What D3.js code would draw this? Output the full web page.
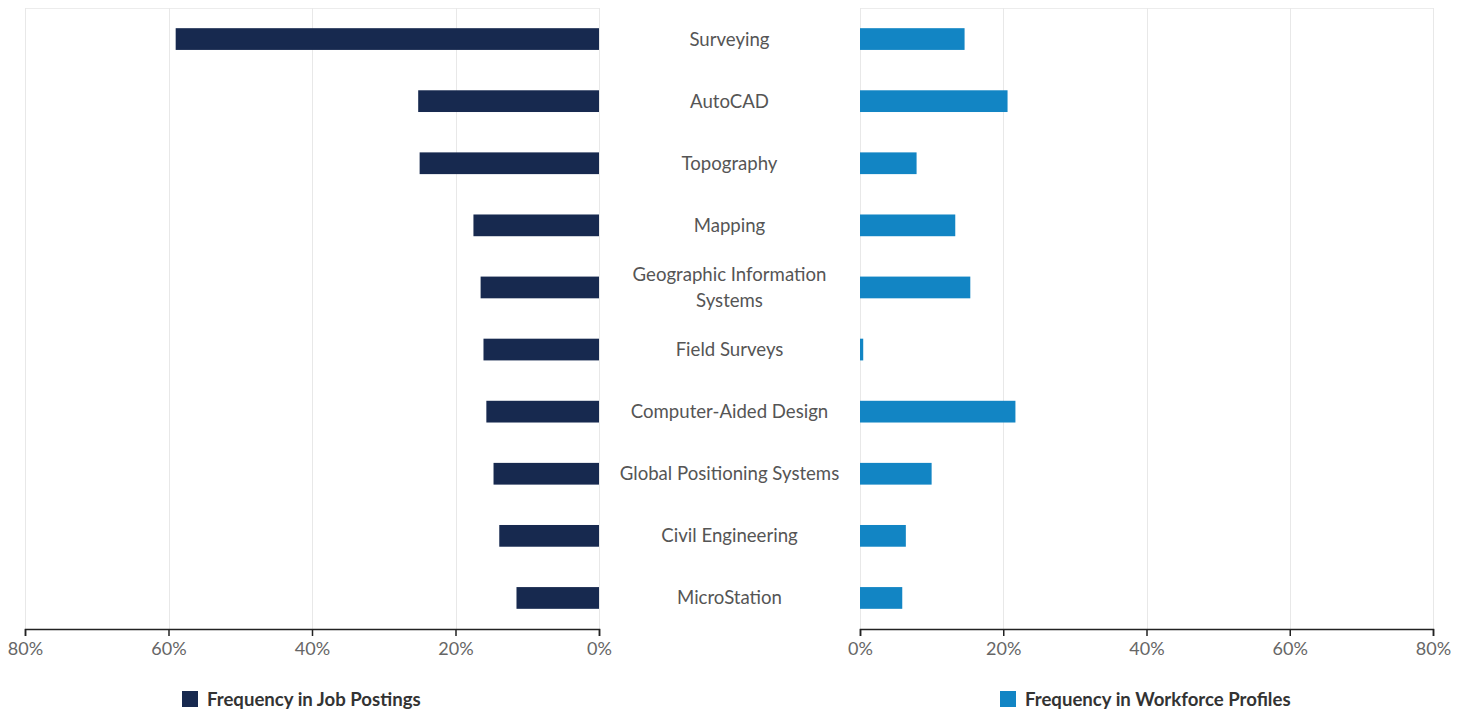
<!DOCTYPE html>
<html>
<head>
<meta charset="utf-8">
<script src="https://cdn.jsdelivr.net/npm/d3@7"></script>
<style>
  body { margin: 0; background: #fff; }
  svg { font-family: Lato, "Open Sans", sans-serif; }
</style>
</head>
<body>
<div id="chart"></div>
<script>
// skills, in chart order (top to bottom)
var skills = ["Surveying", "AutoCAD", "Topography", "Mapping", "Geographic Information Systems",
    "Field Surveys", "Computer-Aided Design", "Global Positioning Systems", "Civil Engineering", "MicroStation"];
// % of job postings mentioning the skill
var jobPostings = [59.0, 25.2, 25.0, 17.5, 16.5, 16.1, 15.7, 14.7, 13.9, 11.5];
// % of workforce profiles listing the skill
var workforceProfiles = [14.6, 20.6, 7.9, 13.3, 15.4, 0.45, 21.7, 10.0, 6.4, 5.9];
var tickValues = [0, 20, 40, 60, 80];
var legendLabels = ["Frequency in Job Postings", "Frequency in Workforce Profiles"];

var width = 1468, height = 713;
var plotTop = 8, axisY = 629;
var leftX0 = 25, leftX1 = 599, rightX0 = 860, rightX1 = 1433;
var navy = "#17294f", blue = "#1285c4";

var svg = d3.select("#chart").append("svg")
    .attr("width", width).attr("height", height);

var y = d3.scaleBand()
    .domain(skills)
    .range([plotTop, axisY])
    .paddingInner(0.65)
    .paddingOuter(0.325);

var xLeft = d3.scaleLinear().domain([80, 0]).range([leftX0, leftX1]);
var xRight = d3.scaleLinear().domain([0, 80]).range([rightX0, rightX1]);

function panel(x, values, color, side) {
    var g = svg.append("g");

    // frame + grid
    g.append("line")
        .attr("x1", x.range()[0]).attr("x2", x.range()[1])
        .attr("y1", plotTop + 0.5).attr("y2", plotTop + 0.5)
        .attr("stroke", "#ececec");
    g.selectAll(".grid").data(tickValues).enter().append("line")
        .attr("x1", function(d){ return Math.round(x(d)) + 0.5; })
        .attr("x2", function(d){ return Math.round(x(d)) + 0.5; })
        .attr("y1", plotTop).attr("y2", axisY)
        .attr("stroke", "#e8e8e8");

    // bars
    g.selectAll(".bar").data(values).enter().append("rect")
        .attr("x", function(d){ return side == "left" ? x(d) : x(0); })
        .attr("width", function(d){ return Math.abs(x(d) - x(0)); })
        .attr("y", function(d, i){ return y(skills[i]); })
        .attr("height", y.bandwidth())
        .attr("fill", color);

    // axis
    var axis = g.append("g")
        .attr("transform", "translate(0," + axisY + ")")
        .call(d3.axisBottom(x).tickValues(tickValues)
            .tickFormat(function(d){ return d + "%"; })
            .tickSize(7).tickPadding(6));
    axis.select(".domain").attr("stroke", "#222").attr("stroke-width", 1.5);
    axis.selectAll(".tick line").attr("stroke", "#222").attr("stroke-width", 1.5);
    axis.selectAll(".tick text")
        .attr("font-size", "18px")
        .attr("font-family", "Lato, sans-serif")
        .attr("fill", "#666");
}

panel(xLeft, jobPostings, navy, "left");
panel(xRight, workforceProfiles, blue, "right");

// category labels in the middle
var midX = (leftX1 + rightX0) / 2;
var labels = svg.append("g").selectAll("text").data(skills).enter().append("text")
    .attr("x", midX)
    .attr("text-anchor", "middle")
    .attr("font-size", "18.6px")
    .attr("fill", "#555");
labels.each(function(d){
    var t = d3.select(this);
    var cy = y(d) + y.bandwidth() / 2;
    var lines = d == "Geographic Information Systems" ? ["Geographic Information", "Systems"] : [d];
    var lh = 26;
    lines.forEach(function(l, k){
        t.append("tspan")
            .attr("x", midX)
            .attr("y", cy + (k - (lines.length - 1) / 2) * lh)
            .attr("dy", "0.35em")
            .text(l);
    });
});

// legend
var legend = [
    {label: legendLabels[0], color: navy, x: 182},
    {label: legendLabels[1], color: blue, x: 1000}
];
var lg = svg.append("g").selectAll("g").data(legend).enter().append("g")
    .attr("transform", function(d){ return "translate(" + d.x + ",691)"; });
lg.append("rect").attr("width", 16).attr("height", 16).attr("fill", function(d){ return d.color; });
lg.append("text")
    .attr("x", 25).attr("y", 8).attr("dy", "0.35em")
    .attr("font-size", "18.6px").attr("font-weight", 700)
    .attr("fill", "#333")
    .text(function(d){ return d.label; });
</script>
</body>
</html>
